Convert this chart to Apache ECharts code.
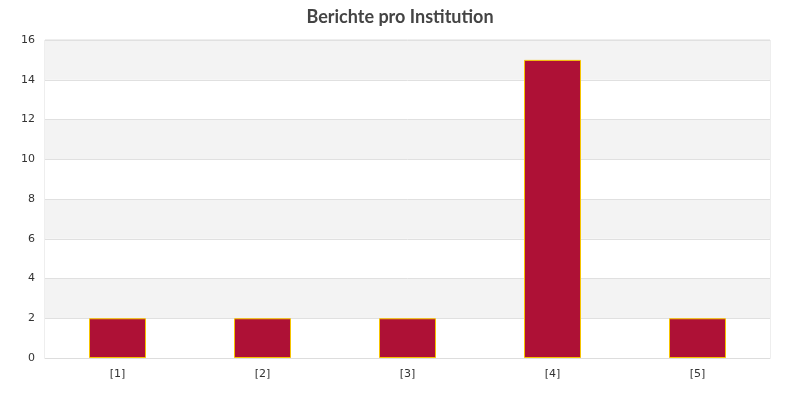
<!DOCTYPE html>
<html>
<head>
<meta charset="utf-8">
<script src="https://cdn.jsdelivr.net/npm/echarts@6/dist/echarts.min.js"></script>
<style>
  html, body { margin: 0; padding: 0; background: #fff; }
  #chart { width: 800px; height: 398px; }
</style>
</head>
<body>
<div id="chart"></div>
<script>
const categories = ["[1]", "[2]", "[3]", "[4]", "[5]"];
const reportCounts = [2, 2, 2, 15, 2];
const chartTitle = "Berichte pro Institution";

const chart = echarts.init(document.getElementById("chart"));

const option = {
  animation: false,
  backgroundColor: "#fff",
  title: {
    text: chartTitle,
    left: "center",
    top: 3,
    textStyle: {
      fontFamily: "Lato",
      fontSize: 18,
      fontWeight: "bold",
      color: "#444"
    }
  },
  grid: {
    left: 45,
    right: 30,
    top: 40,
    bottom: 40,
    show: true,
    borderColor: "#ddd",
    borderWidth: 1,
    backgroundColor: "transparent"
  },
  xAxis: {
    type: "category",
    data: categories,
    axisLine: { show: true, lineStyle: { color: "#ddd" } },
    axisTick: { show: false },
    axisLabel: {
      color: "#333",
      fontFamily: "DejaVu Sans",
      fontSize: 11,
      margin: 11
    }
  },
  yAxis: {
    type: "value",
    min: 0,
    max: 16,
    interval: 2,
    axisLine: { show: false },
    axisTick: { show: false },
    axisLabel: {
      color: "#333",
      fontFamily: "DejaVu Sans",
      fontSize: 11,
      margin: 10
    },
    splitLine: { lineStyle: { color: "#e0e0e0" } },
    splitArea: {
      show: true,
      areaStyle: { color: ["#ffffff", "#f3f3f3"] }
    }
  },
  series: [
    {
      type: "bar",
      data: reportCounts,
      barWidth: 57,
      itemStyle: {
        color: "#ae1136",
        borderColor: "#f5c400",
        borderWidth: 1
      }
    }
  ]
};

chart.setOption(option);
</script>
</body>
</html>
